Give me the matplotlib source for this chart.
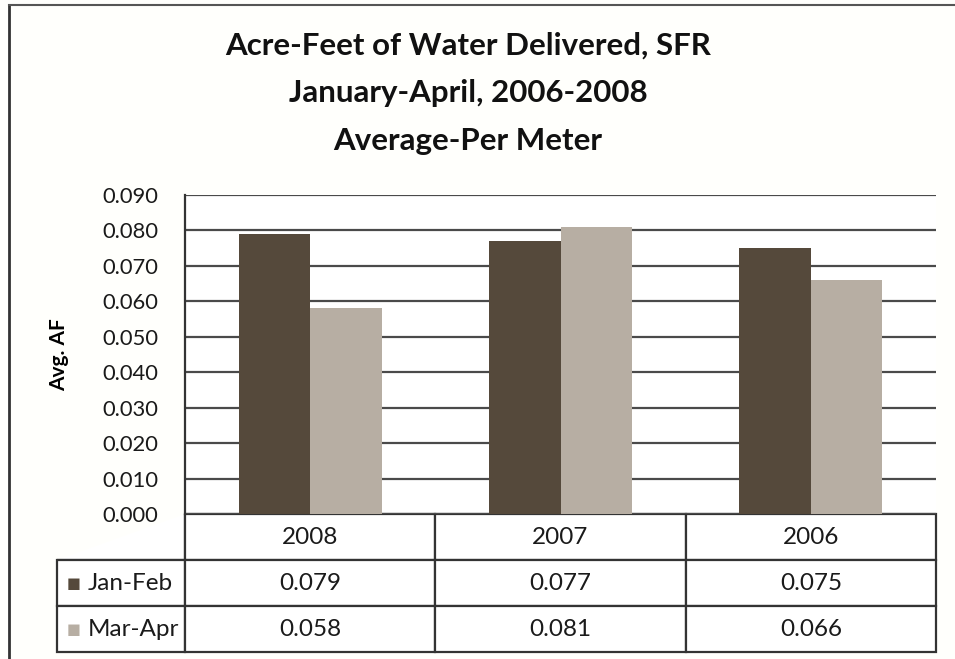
import matplotlib
matplotlib.use("Agg")
import matplotlib.pyplot as plt
from matplotlib.lines import Line2D

years = ["2008", "2007", "2006"]
series = ["Jan-Feb", "Mar-Apr"]
jan_feb = [0.079, 0.077, 0.075]
mar_apr = [0.058, 0.081, 0.066]
yticks = [0.0, 0.01, 0.02, 0.03, 0.04, 0.05, 0.06, 0.07, 0.08, 0.09]

dark = "#55493b"
light = "#b7aea3"

plt.rcParams["font.family"] = ["Lato", "DejaVu Sans"]

fig = plt.figure(figsize=(9.55, 6.59), dpi=100)
fig.patch.set_facecolor("#fffffc")

W, H = 955., 659.
ax = fig.add_axes([185 / W, 1 - 514 / H, 751 / W, 319 / H])
ax.set_facecolor("white")

x = range(len(years))
bw = 0.285
ax.bar([i - bw / 2 for i in x], jan_feb, bw, color=dark, zorder=3)
ax.bar([i + bw / 2 for i in x], mar_apr, bw, color=light, zorder=3)

ax.set_xlim(-0.5, 2.5)
ax.set_ylim(0, 0.09)
ax.set_yticks(yticks)
ax.set_yticklabels(["%.3f" % v for v in yticks], fontsize=15.8, color="#1a1a1a")
ax.tick_params(axis="y", length=0, pad=19)
ax.set_xticks([])
ax.yaxis.grid(True, color="#4a4a4a", lw=1.6, zorder=1)
for s in ["top", "right", "bottom"]:
    ax.spines[s].set_visible(False)
ax.spines["left"].set_color("#333333")
ax.spines["left"].set_linewidth(1.6)

ax.set_ylabel("Avg. AF", fontsize=15, fontweight="bold", labelpad=24)

# data table below the plot
rows = [[""] + years,
        [series[0]] + ["%.3f" % v for v in jan_feb],
        [series[1]] + ["%.3f" % v for v in mar_apr]]
lab_w = 128 / 751.
tbl = ax.table(cellText=rows, cellLoc="center",
               colWidths=[lab_w, 1 / 3., 1 / 3., 1 / 3.],
               bbox=[-lab_w, -138 / 319., 1 + lab_w, 138 / 319.])
tbl.auto_set_font_size(False)
tbl.set_fontsize(17.5)
for (r, c), cell in tbl.get_celld().items():
    cell.set_edgecolor("#333333")
    cell.set_linewidth(1.6)
    cell.set_text_props(color="#1a1a1a", fontsize=17.5)
    if c == 0:
        cell.get_text().set_ha("left")
        cell.PAD = 0.24
tbl[0, 0].visible_edges = "BR"

# legend keys inside row-label cells
for k, col in enumerate([dark, light]):
    yc = -(46 + 46 * k + 23) / 319.
    ax.text(-lab_w + 0.013, yc, "\u25a0", color=col, fontsize=10.5,
            ha="left", va="center", transform=ax.transAxes,
            family="DejaVu Sans")

fig.text(468 / W, 1 - 93 / H,
         "Acre-Feet of Water Delivered, SFR\nJanuary-April, 2006-2008\nAverage-Per Meter",
         ha="center", va="center", fontsize=22.5, fontweight="bold",
         linespacing=1.85, color="#111111")

# outer chart border (left and top edges visible)
fig.add_artist(Line2D([9 / W, 9 / W], [0, 1 - 5 / H], color="#333333", lw=2))
fig.add_artist(Line2D([9 / W, 1], [1 - 5 / H, 1 - 5 / H], color="#555555", lw=1.5))

fig.savefig("out.png", dpi=100, facecolor=fig.get_facecolor())
